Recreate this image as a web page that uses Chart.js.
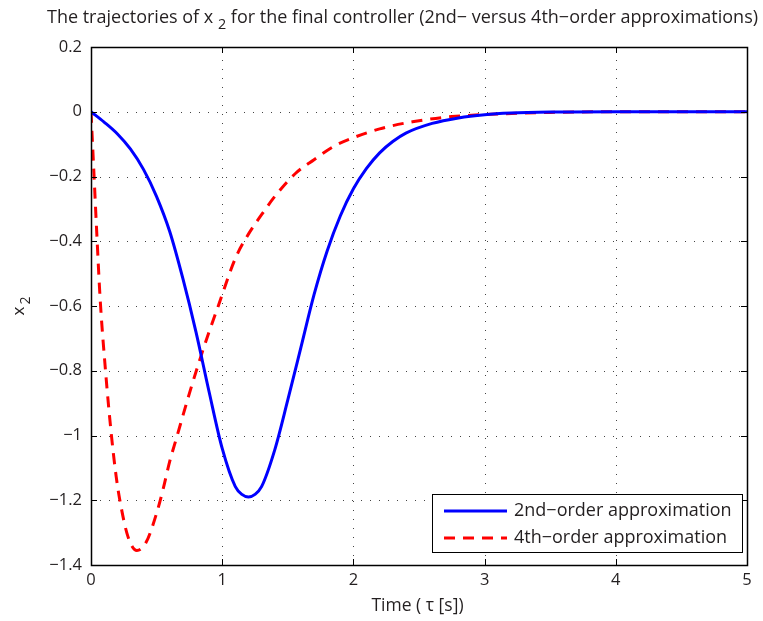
<!DOCTYPE html>
<html><head><meta charset="utf-8">
<script src="https://cdn.jsdelivr.net/npm/chart.js@4/dist/chart.umd.min.js"></script>
<style>html,body{margin:0;padding:0;background:#fff}#wrap{width:763px;height:621px;position:relative}</style>
</head><body><div id="wrap"><canvas id="c" width="763" height="621"></canvas></div>
<script>
// ---- data ----
const timeSecond = [0, 0.1, 0.2, 0.3, 0.4, 0.5, 0.6, 0.7, 0.8, 0.9, 1.0, 1.1, 1.15, 1.2, 1.25, 1.3, 1.4, 1.5, 1.6, 1.7, 1.8, 1.9, 2.0, 2.1, 2.2, 2.3, 2.4, 2.6, 2.8, 3.0, 3.2, 3.5, 4.0, 4.5, 5.0];
const x2Second = [0, -0.032, -0.068, -0.115, -0.178, -0.262, -0.37, -0.515, -0.68, -0.865, -1.04, -1.158, -1.182, -1.19, -1.182, -1.158, -1.045, -0.89, -0.728, -0.565, -0.43, -0.322, -0.238, -0.175, -0.127, -0.092, -0.066, -0.036, -0.019, -0.009, -0.004, -0.001, 0, 0, 0];
const timeFourth = [0, 0.02, 0.044, 0.07, 0.108, 0.154, 0.192, 0.22, 0.28, 0.35, 0.42, 0.5, 0.55, 0.6, 0.65, 0.75, 0.83, 0.9, 0.97, 1.1, 1.2, 1.3, 1.41, 1.56, 1.7, 1.85, 2.0, 2.2, 2.45, 2.75, 3.1, 3.5, 4.0, 5.0];
const x2Fourth = [0, -0.17, -0.375, -0.58, -0.787, -0.993, -1.127, -1.2, -1.31, -1.355, -1.33, -1.24, -1.165, -1.08, -1.01, -0.87, -0.765, -0.68, -0.6, -0.453, -0.378, -0.318, -0.257, -0.19, -0.148, -0.107, -0.08, -0.053, -0.031, -0.015, -0.007, -0.002, 0, 0];
const xTicks = [0, 1, 2, 3, 4, 5];
const yTicks = [0.2, 0, -0.2, -0.4, -0.6, -0.8, -1, -1.2, -1.4];
const seriesLabels = ['2nd\u2212order approximation', '4th\u2212order approximation'];
const titlePre = 'The trajectories of x ';
const titleSub = '2';
const titlePost = ' for the final controller (2nd\u2212 versus 4th\u2212order approximations)';
const xLabel = 'Time ( \u03c4 [s])';
const yLabelMain = 'x';
const yLabelSub = '2';

const FONT = '"Open Sans", Lato, "DejaVu Sans", sans-serif';
const TXT = '#231f20';

function fmt(v){
  const r = Math.round(v*10)/10;
  if (Math.abs(r) < 1e-9) return '0';
  return String(r).replace('-', '\u2212');
}

const decor = {
  id: 'decor',
  beforeDatasetsDraw(chart){
    const {ctx, chartArea: a, scales: {x, y}} = chart;
    ctx.save();
    ctx.strokeStyle = '#444';
    ctx.lineWidth = 1;
    ctx.setLineDash([1, 8]);
    xTicks.forEach(t => {
      const px = Math.round(x.getPixelForValue(t)) + 0.5;
      if (px <= a.left + 1 || px >= a.right - 1) return;
      ctx.beginPath(); ctx.moveTo(px, a.bottom); ctx.lineTo(px, a.top); ctx.stroke();
    });
    yTicks.forEach(t => {
      const py = Math.round(y.getPixelForValue(t)) + 0.5;
      if (py <= a.top + 1 || py >= a.bottom - 1) return;
      ctx.beginPath(); ctx.moveTo(a.left, py); ctx.lineTo(a.right, py); ctx.stroke();
    });
    ctx.restore();
  },
  afterDatasetsDraw(chart){
    const {ctx, chartArea: a, scales: {x, y}} = chart;
    ctx.save();
    ctx.setLineDash([]);
    ctx.strokeStyle = '#000';
    ctx.lineWidth = 1;
    const TL = 6;
    xTicks.forEach(t => {
      const px = Math.round(x.getPixelForValue(t)) + 0.5;
      ctx.beginPath();
      ctx.moveTo(px, a.bottom); ctx.lineTo(px, a.bottom - TL);
      ctx.moveTo(px, a.top); ctx.lineTo(px, a.top + TL);
      ctx.stroke();
    });
    yTicks.forEach(t => {
      const py = Math.round(y.getPixelForValue(t)) + 0.5;
      ctx.beginPath();
      ctx.moveTo(a.left, py); ctx.lineTo(a.left + TL, py);
      ctx.moveTo(a.right, py); ctx.lineTo(a.right - TL, py);
      ctx.stroke();
    });
    ctx.lineWidth = 1.5;
    ctx.strokeRect(a.left + 0.5, a.top + 0.5, a.right - a.left, a.bottom - a.top);

    // legend
    const lx = 432.5, ly = 494.5, lw = 310, lh = 58;
    ctx.fillStyle = '#fff';
    ctx.fillRect(lx, ly, lw, lh);
    ctx.lineWidth = 1;
    ctx.strokeStyle = '#000';
    ctx.strokeRect(lx, ly, lw, lh);
    const ds = chart.data.datasets;
    const rows = [511, 538];
    ds.forEach((d, i) => {
      ctx.save();
      ctx.strokeStyle = d.borderColor;
      ctx.lineWidth = 3;
      ctx.setLineDash(d.borderDash || []);
      ctx.beginPath(); ctx.moveTo(444, rows[i]); ctx.lineTo(507, rows[i]); ctx.stroke();
      ctx.restore();
      ctx.fillStyle = TXT;
      ctx.font = '18px ' + FONT;
      ctx.textAlign = 'left';
      ctx.textBaseline = 'middle';
      ctx.fillText(seriesLabels[i], 514, rows[i]);
    });
    ctx.restore();
  },
  afterDraw(chart){
    const {ctx} = chart;
    ctx.save();
    ctx.fillStyle = TXT;
    ctx.textBaseline = 'alphabetic';
    ctx.textAlign = 'left';
    const fs = 18;
    ctx.font = fs + 'px ' + FONT;
    const w1 = ctx.measureText(titlePre).width;
    ctx.font = (fs*0.8) + 'px ' + FONT;
    const w2 = ctx.measureText(titleSub).width;
    ctx.font = fs + 'px ' + FONT;
    const w3 = ctx.measureText(titlePost).width;
    const total = w1 + w2 + w3;
    let tx = 402.5 - total/2;
    const tb = 23;
    ctx.fillText(titlePre, tx, tb);
    ctx.font = (fs*0.8) + 'px ' + FONT;
    ctx.fillText(titleSub, tx + w1, tb + 6);
    ctx.font = fs + 'px ' + FONT;
    ctx.fillText(titlePost, tx + w1 + w2, tb);

    ctx.textAlign = 'center';
    ctx.textBaseline = 'middle';
    ctx.font = '17.5px ' + FONT;
    ctx.fillText(xLabel, 417.5, 606);

    ctx.translate(24, 306);
    ctx.rotate(-Math.PI/2);
    ctx.textAlign = 'left';
    ctx.textBaseline = 'alphabetic';
    ctx.font = '17px ' + FONT;
    const wx = ctx.measureText(yLabelMain).width;
    ctx.font = '14px ' + FONT;
    const ws = ctx.measureText(yLabelSub).width;
    const start = -(wx + ws + 2)/2;
    ctx.font = '17px ' + FONT;
    ctx.fillText(yLabelMain, start, 0);
    ctx.font = '14px ' + FONT;
    ctx.fillText(yLabelSub, start + wx + 2, 6);
    ctx.restore();
  }
};

const chart = new Chart(document.getElementById('c'), {
  type: 'scatter',
  data: {
    datasets: [
      {
        label: seriesLabels[0],
        data: timeSecond.map((t, i) => ({x: t, y: x2Second[i]})),
        showLine: true, borderColor: '#0000ff', borderWidth: 3,
        pointRadius: 0, cubicInterpolationMode: 'monotone', fill: false
      },
      {
        label: seriesLabels[1],
        data: timeFourth.map((t, i) => ({x: t, y: x2Fourth[i]})),
        showLine: true, borderColor: '#ff0000', borderWidth: 3, borderDash: [11, 8],
        pointRadius: 0, cubicInterpolationMode: 'monotone', fill: false
      }
    ]
  },
  options: {
    responsive: false,
    animation: false,
    devicePixelRatio: 1,
    layout: {padding: {left: 0, top: 47, right: 16, bottom: 0}},
    plugins: {legend: {display: false}, title: {display: false}, tooltip: {enabled: false}},
    scales: {
      x: {
        type: 'linear', min: 0, max: 5,
        afterBuildTicks: s => { s.ticks = xTicks.map(v => ({value: v})); },
        afterFit: s => { s.height = 56; },
        grid: {display: false, drawTicks: false},
        border: {display: false},
        ticks: {padding: 5, color: TXT, font: {family: FONT, size: 16.5}, maxRotation: 0, callback: v => fmt(v)}
      },
      y: {
        type: 'linear', min: -1.4, max: 0.2,
        afterBuildTicks: s => { s.ticks = yTicks.map(v => ({value: v})); },
        afterFit: s => { s.width = 91; },
        grid: {display: false, drawTicks: false},
        border: {display: false},
        ticks: {padding: 9, color: TXT, font: {family: FONT, size: 16.5}, callback: v => fmt(v)}
      }
    }
  },
  plugins: [decor]
});
</script>
</body></html>
